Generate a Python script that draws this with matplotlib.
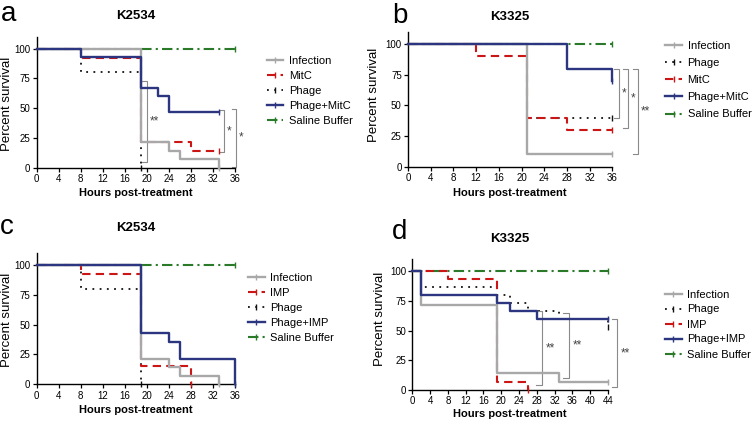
import matplotlib
matplotlib.use("Agg")
import matplotlib.pyplot as plt
from matplotlib.lines import Line2D

plt.rcParams['font.family'] = ['Liberation Sans', 'DejaVu Sans']

W, H = 755, 422

# ---- data (time in h, percent survival) ----
# panel a: K2534, MitC
a_inf_t = [0, 19, 24, 26, 33, 33]
a_inf_s = [100, 21.4, 14.3, 7.1, 0, 0]
a_mit_t = [0, 8, 19, 28, 33]
a_mit_s = [100, 92.3, 21.4, 14.3, 14.3]
a_pha_t = [0, 8, 19, 19]
a_pha_s = [100, 80, 0, 0]
a_com_t = [0, 8, 19, 22, 24, 33]
a_com_s = [100, 93.3, 66.7, 60, 46.7, 46.7]
a_sal_t = [0, 36]
a_sal_s = [100, 100]

# panel b: K3325, MitC
b_inf_t = [0, 21, 36]
b_inf_s = [100, 10, 10]
b_pha_t = [0, 21, 36]
b_pha_s = [100, 40, 40]
b_mit_t = [0, 12, 21, 28, 36]
b_mit_s = [100, 90, 40, 30, 30]
b_com_t = [0, 28, 36, 36]
b_com_s = [100, 80, 70, 70]
b_sal_t = [0, 36]
b_sal_s = [100, 100]

# panel c: K2534, IMP
c_inf_t = [0, 19, 24, 26, 33, 33]
c_inf_s = [100, 21.4, 14.3, 7.1, 0, 0]
c_imp_t = [0, 8, 19, 28, 28]
c_imp_s = [100, 92.3, 15.4, 0, 0]
c_pha_t = [0, 8, 19, 19]
c_pha_s = [100, 80, 0, 0]
c_com_t = [0, 19, 24, 26, 36, 36]
c_com_s = [100, 42.9, 35.7, 21.4, 0, 0]
c_sal_t = [0, 36]
c_sal_s = [100, 100]

# panel d: K3325, IMP
d_inf_t = [0, 2, 19, 33, 44]
d_inf_s = [100, 71.4, 14.3, 7.1, 7.1]
d_pha_t = [0, 2, 19, 22, 26, 33, 44, 44]
d_pha_s = [100, 86.7, 80, 73.3, 66.7, 60, 53.3, 53.3]
d_imp_t = [0, 8, 19, 26, 26]
d_imp_s = [100, 93.3, 6.7, 0, 0]
d_com_t = [0, 2, 19, 22, 28, 44]
d_com_s = [100, 80, 73.3, 66.7, 60, 60]
d_sal_t = [0, 44]
d_sal_s = [100, 100]

# significance brackets: x, y_top, y_bottom, label
a_sig = [(19.95, 73, 5, '**'), (34.0, 48.3, 13.4, '*'), (36.2, 49, 1, '*')]
b_sig = [(37.2, 79.4, 39.8, '*'), (38.7, 79.4, 31.7, '*'), (40.5, 79.4, 10.3, '**')]
d_sig = [(29.2, 66, 4.2, '**'), (35.2, 64.4, 10.3, '**'), (46.1, 59.4, 2.8, '**')]

# ---- styles ----
STY = {
    'Infection': dict(color='#a8a8a8', lw=1.7, ls='-', zorder=4),
    'MitC': dict(color='#cc1515', lw=1.5, ls=(0, (4, 2.5)), zorder=3),
    'IMP': dict(color='#cc1515', lw=1.5, ls=(0, (4, 2.5)), zorder=3),
    'Phage': dict(color='#111111', lw=1.3, ls=(0, (1, 3)), zorder=2),
    'Phage+MitC': dict(color='#2b3580', lw=1.7, ls='-', zorder=5),
    'Phage+IMP': dict(color='#2b3580', lw=1.7, ls='-', zorder=5),
    'Saline Buffer': dict(color='#2a7a2a', lw=1.5, ls=(0, (5, 2, 1, 2)), zorder=1),
}

fig = plt.figure(figsize=(W / 100, H / 100), dpi=100)


def px(x, y):
    return x / W, 1 - y / H


def panel(rect, xmax, series, order, sig, tick, letter, title,
          lpos, lspacing, tpos, xlpos, ylpos, lpos_letter):
    ax = fig.add_axes(rect)
    for name, t, s in series:
        st = STY[name]
        ax.step(t, s, where='post', color=st['color'], lw=st['lw'],
                ls=st['ls'], zorder=st['zorder'], clip_on=False)
        ax.plot([t[-1]], [s[-1]], marker='|', ms=4, mew=1,
                color=st['color'], zorder=st['zorder'], clip_on=False)
    ax.set_xlim(0, xmax)
    ax.set_ylim(0, 110)
    ax.set_xticks(range(0, xmax + 1, 4))
    ax.set_yticks([0, 25, 50, 75, 100])
    for sp in ['top', 'right']:
        ax.spines[sp].set_visible(False)
    for sp in ['left', 'bottom']:
        ax.spines[sp].set_linewidth(1.0)
    ax.tick_params(direction='out', length=3, width=0.9, labelsize=7, pad=1.5)
    for x, y0, y1, lab in sig:
        ax.plot([x - tick, x, x, x - tick], [y0, y0, y1, y1],
                color='#8a8a8a', lw=0.8, clip_on=False)
        ax.text(x + tick * 0.6, (y0 + y1) / 2, lab, fontsize=8.5,
                color='#444444', ha='left', va='center', clip_on=False)
    handles = [Line2D([0], [0], color=STY[n]['color'], lw=STY[n]['lw'],
                      ls=STY[n]['ls'], marker='|', ms=4, mew=1) for n in order]
    fig.legend(handles, order, loc='center left',
               bbox_to_anchor=px(*lpos), bbox_transform=fig.transFigure,
               frameon=False, fontsize=8, borderpad=0, borderaxespad=0,
               handlelength=1.5, handletextpad=0.5, labelspacing=lspacing,
               numpoints=1)
    fig.text(*px(*tpos), title, fontsize=9.5, fontweight='bold',
             ha='center', va='center')
    fig.text(*px(*xlpos), 'Hours post-treatment', fontsize=8,
             fontweight='bold', ha='center', va='center')
    fig.text(*px(*ylpos), 'Percent survival', fontsize=9.5,
             rotation=90, ha='center', va='center')
    fig.text(*px(*lpos_letter), letter, fontsize=20, ha='left',
             va='baseline')
    return ax


panel([0.0486, 0.6026, 0.2627, 0.3104], 36,
      [('Saline Buffer', a_sal_t, a_sal_s), ('Phage', a_pha_t, a_pha_s),
       ('MitC', a_mit_t, a_mit_s), ('Infection', a_inf_t, a_inf_s),
       ('Phage+MitC', a_com_t, a_com_s)],
      ['Infection', 'MitC', 'Phage', 'Phage+MitC', 'Saline Buffer'],
      a_sig, 0.8, 'a', 'K2534', (266.7, 91), 0.45, (136, 16),
      (135.8, 193.3), (7, 104), (1, 20.8))

panel([0.5404, 0.605, 0.2706, 0.3199], 36,
      [('Saline Buffer', b_sal_t, b_sal_s), ('Phage', b_pha_t, b_pha_s),
       ('Infection', b_inf_t, b_inf_s), ('MitC', b_mit_t, b_mit_s),
       ('Phage+MitC', b_com_t, b_com_s)],
      ['Infection', 'Phage', 'MitC', 'Phage+MitC', 'Saline Buffer'],
      b_sig, 0.9, 'b', 'K3325', (665.3, 80), 0.65, (509.7, 16.5),
      (509.7, 192.7), (374, 95), (392, 23))

panel([0.0486, 0.0893, 0.2627, 0.3109], 36,
      [('Saline Buffer', c_sal_t, c_sal_s), ('Phage', c_pha_t, c_pha_s),
       ('IMP', c_imp_t, c_imp_s), ('Infection', c_inf_t, c_inf_s),
       ('Phage+IMP', c_com_t, c_com_s)],
      ['Infection', 'IMP', 'Phage', 'Phage+IMP', 'Saline Buffer'],
      [], 0.8, 'c', 'K2534', (248, 308), 0.45, (136, 227.7),
      (136, 410), (7, 320), (0, 233.7))

panel([0.5461, 0.0758, 0.2592, 0.3102], 44,
      [('Saline Buffer', d_sal_t, d_sal_s), ('Phage', d_pha_t, d_pha_s),
       ('IMP', d_imp_t, d_imp_s), ('Infection', d_inf_t, d_inf_s),
       ('Phage+IMP', d_com_t, d_com_s)],
      ['Infection', 'Phage', 'IMP', 'Phage+IMP', 'Saline Buffer'],
      d_sig, 1.3, 'd', 'K3325', (665, 324.5), 0.45, (509.7, 239.3),
      (509.7, 414.3), (380, 319), (392, 239.3))

fig.savefig('out.png', dpi=100)
